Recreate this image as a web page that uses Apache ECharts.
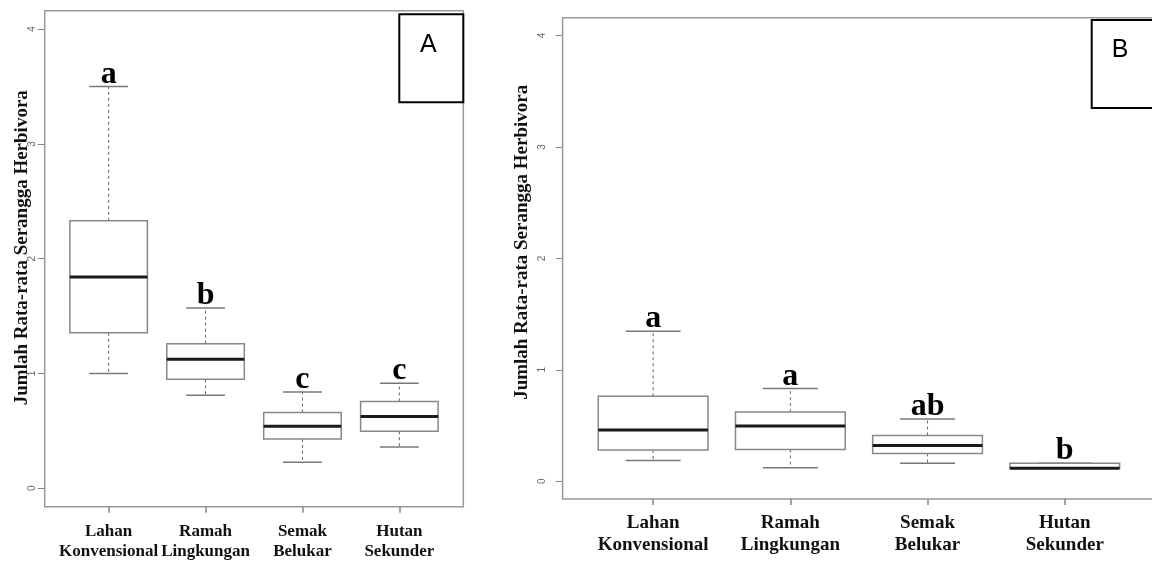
<!DOCTYPE html>
<html>
<head>
<meta charset="utf-8">
<script src="https://cdn.jsdelivr.net/npm/echarts@6/dist/echarts.min.js"></script>
<style>
  html, body { margin: 0; padding: 0; background: #fff; }
  #chart { width: 1152px; height: 561px; }
</style>
</head>
<body>
<div id="chart"></div>
<script>
const categories = ["Lahan\nKonvensional", "Ramah\nLingkungan", "Semak\nBelukar", "Hutan\nSekunder"];
const yTicks = [0, 1, 2, 3, 4];
const xTicks = [1, 2, 3, 4];

// [lower whisker, Q1, median, Q3, upper whisker]
const statsA = [
    [1.00, 1.355, 1.84, 2.33, 3.50],
    [0.81, 0.95, 1.125, 1.26, 1.57],
    [0.227, 0.43, 0.54, 0.66, 0.84],
    [0.36, 0.497, 0.626, 0.757, 0.916],
];
const lettersA = ["a", "b", "c", "c"];

const statsB = [
    [0.186, 0.279, 0.459, 0.762, 1.346],
    [0.12, 0.285, 0.495, 0.62, 0.831],
    [0.162, 0.249, 0.321, 0.411, 0.558],
    [0.117, 0.117, 0.117, 0.162, 0.162],
];
const lettersB = ["a", "a", "ab", "b"];

const chart = echarts.init(document.getElementById("chart"));

const serif = '"Liberation Serif", "DejaVu Serif", serif';
const sans = '"Liberation Sans", Arial, sans-serif';

// R-like boxplot: dashed whiskers, grey box, thick black median, letter on top
const renderBox = (letters) => (params, api) => {
    const x = api.value(0);
    const lo = api.coord([x, api.value(1)]);
    const q1 = api.coord([x, api.value(2)]);
    const md = api.coord([x, api.value(3)]);
    const q3 = api.coord([x, api.value(4)]);
    const hi = api.coord([x, api.value(5)]);
    const unit = api.size([1, 0])[0];
    const bw = unit * 0.4;
    const cw = unit * 0.2;
    const cx = md[0];
    const line = (x1, y1, x2, y2, style) => ({ type: "line", shape: { x1, y1, x2, y2 }, style });
    const dashed = { stroke: "#666", lineWidth: 1, lineDash: [3, 3] };
    const cap = { stroke: "#777", lineWidth: 1.5 };
    return {
        type: "group",
        children: [
            line(cx, q3[1], cx, hi[1], dashed),
            line(cx, q1[1], cx, lo[1], dashed),
            line(cx - cw, hi[1], cx + cw, hi[1], cap),
            line(cx - cw, lo[1], cx + cw, lo[1], cap),
            {
                type: "rect",
                shape: { x: cx - bw, y: q3[1], width: bw * 2, height: q1[1] - q3[1] },
                style: { fill: "#fff", stroke: "#888", lineWidth: 1.5 },
            },
            line(cx - bw, md[1], cx + bw, md[1], { stroke: "#1a1a1a", lineWidth: 3 }),
            {
                type: "text",
                style: {
                    text: letters[params.dataIndex],
                    x: cx,
                    y: hi[1] - 12,
                    font: "bold 32px " + serif,
                    fill: "#000",
                    align: "center",
                    verticalAlign: "middle",
                    textAlign: "center",
                    textVerticalAlign: "middle",
                },
            },
        ],
    };
};

const makeX = (gridIndex, fontSize, lineHeight, margin) => ({
    gridIndex,
    type: "value",
    min: 0.34,
    max: 4.66,
    splitLine: { show: false },
    axisLine: { show: false, onZero: false },
    axisTick: { show: true, length: 6, customValues: xTicks, lineStyle: { color: "#888", width: 1.5 } },
    axisLabel: {
        customValues: xTicks,
        formatter: (v) => categories[v - 1],
        fontFamily: serif,
        fontWeight: "bold",
        fontSize,
        lineHeight,
        margin,
        color: "#111",
    },
});

const makeY = (gridIndex, labelMargin, nameGap, shift) => ({
    gridIndex,
    type: "value",
    min: -0.16,
    max: 4.16,
    splitLine: { show: false },
    axisLine: { show: false, onZero: false },
    axisTick: { show: true, length: 7, customValues: yTicks, lineStyle: { color: "#888" } },
    axisLabel: {
        customValues: yTicks,
        rotate: 90,
        margin: labelMargin,
        fontSize: 10,
        fontFamily: sans,
        color: "#666",
    },
    name: "Jumlah Rata-rata Serangga Herbivora",
    nameLocation: "middle",
    nameRotate: 90,
    nameGap,
    nameMoveOverlap: false,
    nameTextStyle: {
        fontFamily: serif,
        fontWeight: "bold",
        fontSize: 19,
        color: "#111",
        padding: [0, 0, 0, shift],
    },
});

const option = {
    animation: false,
    backgroundColor: "#fff",
    grid: [
        {
            left: 44.7, top: 10.7, width: 418.6, height: 496,
            outerBoundsMode: "none",
            show: true, borderColor: "#999", borderWidth: 1.5,
        },
        {
            left: 562.6, top: 17.7, width: 592.7, height: 481.3,
            outerBoundsMode: "none",
            show: true, borderColor: "#999", borderWidth: 1.5,
        },
    ],
    xAxis: [makeX(0, 17, 20, 15), makeX(1, 19, 22, 13)],
    yAxis: [makeY(0, 7, 13, 22), makeY(1, 15, 31, 32)],
    series: [
        {
            type: "custom",
            xAxisIndex: 0,
            yAxisIndex: 0,
            renderItem: renderBox(lettersA),
            encode: { x: 0, y: [1, 2, 3, 4, 5] },
            data: statsA.map((s, i) => [i + 1, ...s]),
        },
        {
            type: "custom",
            xAxisIndex: 1,
            yAxisIndex: 1,
            renderItem: renderBox(lettersB),
            encode: { x: 0, y: [1, 2, 3, 4, 5] },
            data: statsB.map((s, i) => [i + 1, ...s]),
        },
    ],
    graphic: [
        {
            type: "rect",
            z: 10,
            shape: { x: 399.3, y: 14.3, width: 64, height: 88 },
            style: { fill: "#fff", stroke: "#000", lineWidth: 2 },
        },
        {
            type: "text",
            z: 11,
            x: 428.3,
            y: 45,
            style: { text: "A", font: "25px " + sans, fill: "#000", align: "center", verticalAlign: "middle", textAlign: "center", textVerticalAlign: "middle" },
        },
        {
            type: "rect",
            z: 10,
            shape: { x: 1091.7, y: 20, width: 70, height: 88 },
            style: { fill: "#fff", stroke: "#000", lineWidth: 2 },
        },
        {
            type: "text",
            z: 11,
            x: 1120,
            y: 50,
            style: { text: "B", font: "25px " + sans, fill: "#000", align: "center", verticalAlign: "middle", textAlign: "center", textVerticalAlign: "middle" },
        },
    ],
};

chart.setOption(option);
</script>
</body>
</html>
